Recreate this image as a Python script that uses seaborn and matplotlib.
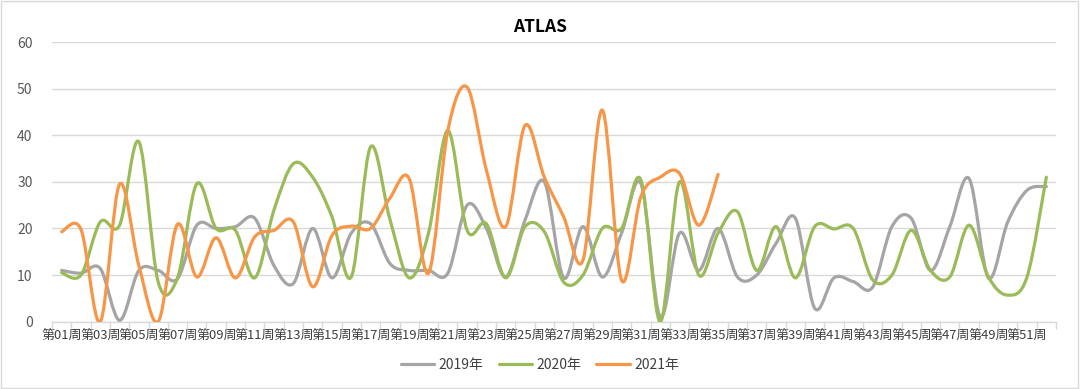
import matplotlib
matplotlib.use("Agg")
import matplotlib.pyplot as plt
from matplotlib.path import Path
from matplotlib.patches import PathPatch, Rectangle
from matplotlib.lines import Line2D
import numpy as np
import seaborn as sns

weeks = [f"第{i:02d}周" for i in range(1, 53)]

y2019 = [11, 10.4, 11.4, 0.3, 11, 11, 9.2, 20.7, 20, 20.4,
         22.2, 12, 8.2, 20, 9.4, 19, 21, 12.5, 11, 11,
         10.4, 25, 20, 9.6, 21.8, 30, 9.4, 20.4, 9.6, 19,
         29.6, 1, 19, 11, 20, 9.6, 10, 16.8, 22.2, 2.9,
         9.4, 8.6, 7.4, 20.4, 22.2, 11, 20.4, 30.7, 9.4, 21.4,
         28.2, 29]
y2020 = [10.5, 10, 21.4, 20.7, 38.6, 8.5, 9.4, 29.6, 20, 19.6,
         9.4, 24, 33.9, 31, 22.5, 9.6, 37.5, 22, 9.4, 19,
         41, 19.6, 21, 9.4, 20.4, 19.3, 8.5, 10, 20, 20,
         30.4, 0, 30, 10, 19, 23.6, 11, 20.4, 9.4, 20.4,
         19.9, 20, 9, 10, 19.6, 11, 9.6, 20.7, 9.6, 5.7,
         9.6, 31]
y2021 = [19.3, 19.8, 0, 29.5, 12, 0, 20.9, 9.6, 18, 9.4,
         18.2, 19.6, 21.4, 7.5, 18.5, 20.5, 20, 26.5, 30.7, 10.4,
         41, 50.3, 32.5, 20.4, 42.1, 31, 22.5, 13.2, 45.4, 8.9,
         26.8, 31, 31.8, 20.7, 31.6]

series = [("2019年", y2019, "#A5A5A5"),
          ("2020年", y2020, "#9BBB59"),
          ("2021年", y2021, "#F79646")]


def smooth_path(ys):
    # Excel-style smoothed line: cubic bezier through every point
    pts = np.column_stack([np.arange(len(ys)), np.asarray(ys, float)])
    n = len(pts)
    verts = [tuple(pts[0])]
    codes = [Path.MOVETO]
    for i in range(n - 1):
        p_prev = pts[max(i - 1, 0)]
        p0 = pts[i]
        p1 = pts[i + 1]
        p_next = pts[min(i + 2, n - 1)]
        c1 = p0 + (p1 - p_prev) / 6.0
        c2 = p1 - (p_next - p0) / 6.0
        verts += [tuple(c1), tuple(c2), tuple(p1)]
        codes += [Path.CURVE4] * 3
    return Path(verts, codes)


sns.set_theme(style="whitegrid")
plt.rcParams['font.family'] = ['Noto Sans CJK SC', 'DejaVu Sans']

fig = plt.figure(figsize=(10.8, 3.89), dpi=100)
ax = fig.add_axes([52 / 1080, 1 - 321.7 / 389, 1004 / 1080, (321.7 - 42) / 389])
ax.set_facecolor("white")

handles = []
for name, ys, color in series:
    patch = PathPatch(smooth_path(ys), facecolor="none", edgecolor=color,
                      lw=2.3, capstyle="round", joinstyle="round", zorder=3)
    ax.add_patch(patch)
    handles.append(Line2D([], [], color=color, lw=2.3, label=name))

ax.set_xlim(-0.5, 51.5)
ax.set_ylim(0, 60)
ax.set_yticks(range(0, 61, 10))
ax.set_xticks(range(0, 52, 2))
ax.set_xticklabels(weeks[::2])
ax.set_xticks(np.arange(-0.5, 52, 1), minor=True)

ax.grid(axis="y", color="#D9D9D9", lw=1)
ax.grid(axis="x", visible=False)
sns.despine(ax=ax, left=True, right=True, top=True)
ax.spines["bottom"].set_color("#D9D9D9")
ax.spines["bottom"].set_linewidth(1)

ax.tick_params(axis="x", which="major", length=0, pad=5, labelsize=9.4, labelcolor="#404040")
ax.tick_params(axis="x", which="minor", length=5, width=1, color="#D9D9D9", bottom=True)
ax.tick_params(axis="y", length=0, pad=14, labelsize=10, labelcolor="#595959")

fig.text(0.5, 1 - 27 / 389, "ATLAS", ha="center", va="center",
         fontsize=12.5, fontweight="bold", color="black")

fig.legend(handles=handles, loc="center", bbox_to_anchor=(0.5, 1 - 365 / 389),
           ncol=3, frameon=False, fontsize=10, handlelength=2.4, columnspacing=1.1,
           handletextpad=0.3, labelcolor="#404040")

fig.patches.append(Rectangle((0.001, 0.002), 0.997, 0.995, transform=fig.transFigure,
                             fill=False, edgecolor="#D9D9D9", lw=1))

fig.savefig("out.png", dpi=100, facecolor="white")
